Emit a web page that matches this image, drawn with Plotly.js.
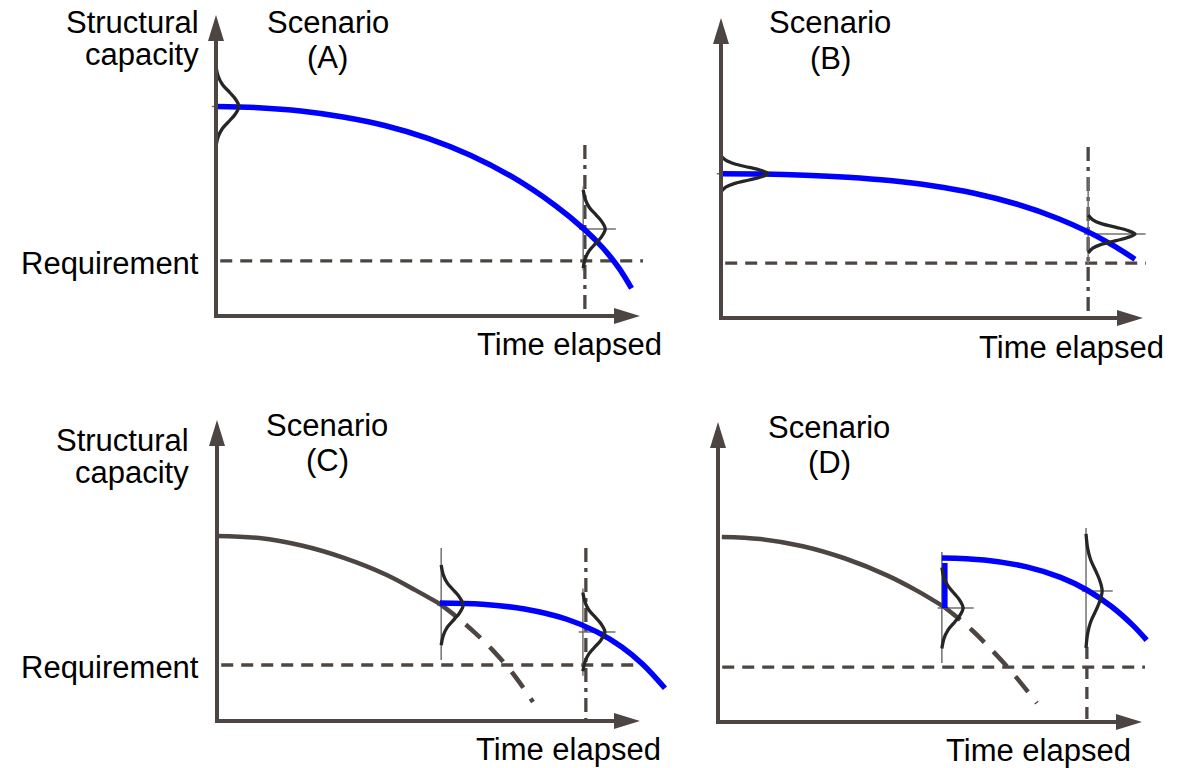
<!DOCTYPE html>
<html><head><meta charset="utf-8">
<script src="https://cdn.plot.ly/plotly-3.0.1.min.js"></script>
<style>html,body{margin:0;padding:0;background:#fff;}#chart{width:1182px;height:768px;}</style>
</head><body><div id="chart"></div>
<script>
// ---------------- data (time 0..100, capacity 0..100, schematic units) ----------------
// Scenario A
const timeA = [0, 10, 20, 30, 40, 50, 60, 70, 80, 87, 91, 95, 98];
const capA  = [69.6, 69.2, 68.1, 66.1, 63.2, 59.0, 53.4, 46.1, 36.7, 28.6, 23.0, 16.0, 9.2];
// Scenario B
const timeB = [0, 10, 20, 30, 40, 50, 60, 70, 80, 87, 93, 98.1];
const capB  = [48.1, 48.0, 47.6, 46.9, 45.8, 44.1, 41.6, 38.0, 33.1, 28.7, 24.1, 19.6];
// Scenario C
const timeC0 = [0, 10, 20, 30, 40, 47, 52.7];
const capC0  = [61.5, 60.8, 58.3, 54.2, 48.6, 43.4, 38.9];
const timeCx = [52.7, 57.0, 61.0, 65.0, 70.0, 74.7];
const capCx  = [38.9, 34.2, 29.3, 23.8, 15.7, 6.3];
const timeC1 = [52.7, 62.7, 72.7, 82.7, 89.7, 95.7, 100.7, 105.9];
const capC1  = [39.2, 38.8, 37.2, 33.8, 29.7, 24.6, 18.8, 10.9];
// Scenario D
const timeD0 = [0.9, 10, 20, 30, 40, 47, 53.5];
const capD0  = [61.7, 61.0, 58.6, 54.5, 48.8, 43.7, 38.2];
const timeDx = [53.5, 56.6, 60.0, 63.4, 68.9, 75.2];
const capDx  = [38.2, 34.7, 30.5, 25.7, 17.3, 6.3];
const timeD1 = [52.8, 62.8, 72.8, 80.8, 87.0, 92.8, 97.8, 101.1];
const capD1  = [54.7, 54.0, 51.7, 48.2, 44.0, 38.5, 32.3, 27.3];
const repairTimeD = [53.5, 53.5];
const repairCapD  = [38.0, 53.0];

// requirement level and inspection time per scenario
const requirement = [18.3, 18.3, 18.6, 18.3];
const reqSpan = [1, 100.7];
const inspectionTime = [87.0, 87.0, 87.2, 87.0];
const inspectionTop = [56.8, 57.0, 57.5, 25.0];

// distributions (bells): base time, mean capacity, half spread, peak width
const bellBase   = [[0, 86.6], [0, 87.0], [53.0, 86.5], [52.8, 86.8]];
const bellMean   = [[69.6, 28.9], [48.1, 28.0], [38.5, 29.6], [38.0, 43.7]];
const bellSpread = [[13.3, 13.0], [6.0, 6.3], [13.3, 13.1], [13.5, 19.0]];
const bellPeak   = [[5.4, 5.2], [11.1, 11.1], [5.2, 5.2], [5.0, 3.8]];
const guideTop    = [[82.7, 43.0], [54.0, 47.0], [57.5, 44.0], [56.7, 64.7]];
const guideBottom = [[56.1, 15.0], [42.0, 18.0], [20.3, 15.0], [19.7, 25.0]];
// bell profile (relative position -> relative height)
const bellPos = [-1, -0.75, -0.55, -0.35, -0.2, 0, 0.2, 0.35, 0.55, 0.75, 1];
const bellVal = [0, 0.1, 0.28, 0.6, 0.83, 1, 0.83, 0.6, 0.28, 0.1, 0];

const scenarioLabels = ['(A)', '(B)', '(C)', '(D)'];

// ---------------- layout / styles ----------------
const W = 1182, H = 768;
const AXIS = '#4d4542', BLUE = '#0000ff', BELL = '#262626', GUIDE = '#707070';
const FONT = 'Liberation Sans, Arial, sans-serif';
const XR = [-5, 108], YR = [-5, 104];
const panels = [
  {x0: 216, y0: 316, xt: 640, yt: 15},
  {x0: 721, y0: 318, xt: 1143, yt: 18},
  {x0: 217, y0: 721, xt: 640, yt: 420},
  {x0: 718, y0: 722, xt: 1142, yt: 422}
];

const traces = [];
const shapes = [];
const layout = {
  width: W, height: H, margin: {l: 0, r: 0, t: 0, b: 0},
  paper_bgcolor: '#fff', plot_bgcolor: 'rgba(0,0,0,0)',
  showlegend: false, hovermode: false, annotations: [], shapes: shapes
};

function line(xs, ys, ax, opts) {
  traces.push(Object.assign({
    type: 'scatter', mode: 'lines', x: xs, y: ys,
    xaxis: 'x' + ax, yaxis: 'y' + ax, hoverinfo: 'skip'
  }, opts));
}

panels.forEach((p, i) => {
  const s = i === 0 ? '' : String(i + 1);
  const sx = (p.xt - p.x0) / 100, sy = (p.y0 - p.yt) / 100;
  layout['xaxis' + s] = {
    domain: [(p.x0 + XR[0] * sx) / W, (p.x0 + XR[1] * sx) / W],
    range: XR, visible: false, fixedrange: true, anchor: 'y' + s
  };
  layout['yaxis' + s] = {
    domain: [(H - (p.y0 - YR[0] * sy)) / H, (H - (p.y0 - YR[1] * sy)) / H],
    range: YR, visible: false, fixedrange: true, anchor: 'x' + s
  };
  const xr = 'x' + s, yr = 'y' + s;
  // axes with arrowheads
  const aLen = 26, aHalf = 8, lw = 4;
  shapes.push({type: 'line', xref: xr, yref: yr, x0: 0, x1: 0, y0: -lw / 2 / sy, y1: 100 - aLen / sy + 1,
    line: {color: AXIS, width: lw}});
  shapes.push({type: 'line', xref: xr, yref: yr, x0: -lw / 2 / sx, x1: 100 - aLen / sx + 1, y0: 0, y1: 0,
    line: {color: AXIS, width: lw}});
  shapes.push({type: 'path', xref: xr, yref: yr, fillcolor: AXIS, line: {width: 0},
    path: `M0,100 L${-aHalf / sx},${100 - aLen / sy} L${aHalf / sx},${100 - aLen / sy} Z`});
  shapes.push({type: 'path', xref: xr, yref: yr, fillcolor: AXIS, line: {width: 0},
    path: `M100,0 L${100 - aLen / sx},${aHalf / sy} L${100 - aLen / sx},${-aHalf / sy} Z`});

  // requirement & inspection lines
  line(reqSpan, [requirement[i], requirement[i]], s, {line: {color: AXIS, width: 3.3, dash: '12px,8px'}});
  line([inspectionTime[i], inspectionTime[i]], [inspectionTop[i], 0], s,
    {line: {color: AXIS, width: 3.3, dash: i === 3 ? '12px,8px' : '14px,6px,4px,6px'}});
  // guides
  bellBase[i].forEach((b, k) => {
    line([b, b], [guideTop[i][k], guideBottom[i][k]], s, {line: {color: GUIDE, width: 1.5}});
    line([b - 1, b + bellPeak[i][k] + 2.5], [bellMean[i][k], bellMean[i][k]], s, {line: {color: GUIDE, width: 1.5}});
  });
});

// capacity curves
const BW = 5.5, DW = 4.5;
line(timeA, capA, '', {line: {color: BLUE, width: BW, shape: 'spline'}});
line(timeB, capB, '2', {line: {color: BLUE, width: BW, shape: 'spline'}});
line(timeC0, capC0, '3', {line: {color: AXIS, width: DW, shape: 'spline'}});
line(timeCx, capCx, '3', {line: {color: AXIS, width: DW, shape: 'spline', dash: '20px,13px'}});
line(timeC1, capC1, '3', {line: {color: BLUE, width: BW, shape: 'spline'}});
line(timeD0, capD0, '4', {line: {color: AXIS, width: DW, shape: 'spline'}});
line(timeDx, capDx, '4', {line: {color: AXIS, width: DW, shape: 'spline', dash: '20px,13px'}});
line(timeD1, capD1, '4', {line: {color: BLUE, width: BW, shape: 'spline'}});
line(repairTimeD, repairCapD, '4', {line: {color: BLUE, width: BW}});

// bells
panels.forEach((p, i) => {
  const s = i === 0 ? '' : String(i + 1);
  bellBase[i].forEach((b, k) => {
    line(bellVal.map(v => b + bellPeak[i][k] * v),
         bellPos.map(q => bellMean[i][k] + bellSpread[i][k] * q), s,
         {line: {color: BELL, width: 3.3, shape: 'spline'}});
  });
});

// text labels
function label(text, px, py, xanchor) {
  layout.annotations.push({
    text: text, xref: 'paper', yref: 'paper', x: px / W, y: 1 - py / H,
    xanchor: xanchor, yanchor: 'middle', showarrow: false,
    font: {family: FONT, size: 31, color: '#000'}
  });
}
label('Structural', 201, 22, 'right');
label('capacity', 201, 54, 'right');
label('Requirement', 201, 263.5, 'right');
label('Structural', 191, 440, 'right');
label('capacity', 191, 472, 'right');
label('Requirement', 201, 667.5, 'right');
const scen = [[327.5, 22, 57], [830, 23, 58], [327, 425.5, 460], [829, 427, 462]];
scen.forEach((c, i) => {
  label('Scenario', c[0], c[1], 'center');
  label(scenarioLabels[i], c[0], c[2], 'center');
});
const tl = [[569, 344], [1071, 347], [568, 749], [1038, 750]];
tl.forEach(c => label('Time elapsed', c[0], c[1], 'center'));

Plotly.newPlot('chart', traces, layout, {staticPlot: true, displayModeBar: false});
</script></body></html>
